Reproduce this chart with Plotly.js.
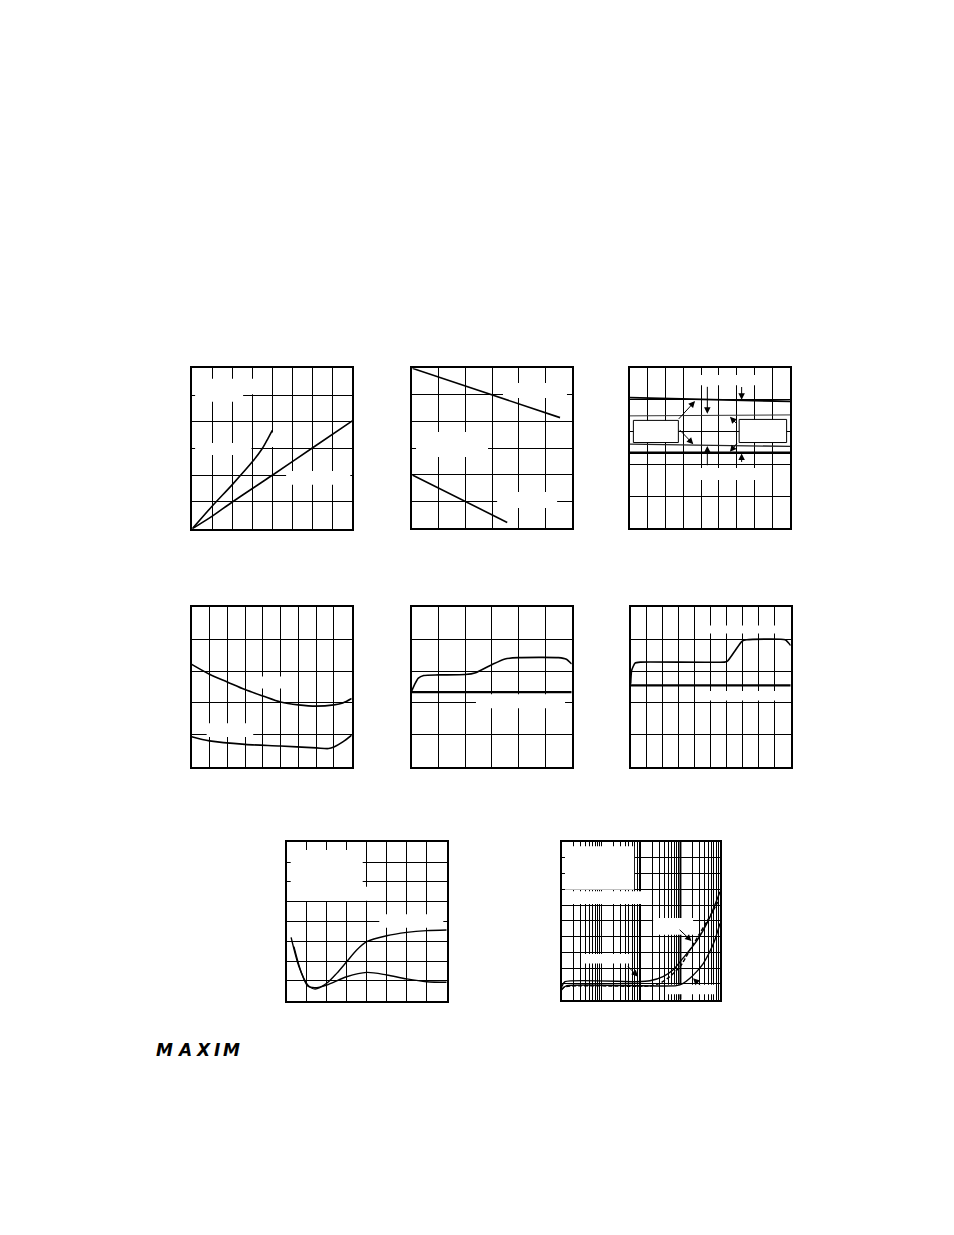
<!DOCTYPE html>
<html><head><meta charset="utf-8">
<script src="https://cdn.plot.ly/plotly-3.0.1.min.js"></script>
<style>html,body{margin:0;padding:0;background:#fff}#chart{width:954px;height:1235px}</style>
</head><body><div id="chart"></div>
<script>
// ---------------- data (grid-division units) ----------------
// Plot 1
const p1CurveAX = [0, 1, 2, 3, 3.5, 3.8, 4.0];
const p1CurveAY = [0, 0.85, 1.65, 2.5, 3.0, 3.4, 3.68];
const p1CurveBX = [0, 1, 2, 4, 6, 8];
const p1CurveBY = [0, 0.47, 1.0, 2.0, 3.02, 4.03];
// Plot 2
const p2UpperX = [0, 3, 5.54];
const p2UpperY = [6.0, 5.0, 4.15];
const p2LowerX = [0, 2, 3.56];
const p2LowerY = [2.0, 1.0, 0.22];
// Plot 3
const p3X = [0, 9];
const p3Curve1 = [4.07, 3.95];
const p3Curve2 = [3.50, 3.53];
const p3Curve3 = [2.62, 2.55];
const p3Curve4 = [2.35, 2.35];
// Plot 4
const p4UpperX = [0, 1, 2, 3, 4, 5, 6, 7, 8, 8.5, 9];
const p4UpperY = [3.21, 2.90, 2.66, 2.42, 2.22, 2.03, 1.94, 1.90, 1.94, 2.0, 2.14];
const p4LowerX = [0, 1, 3, 5, 7, 7.7, 8, 8.5, 9];
const p4LowerY = [0.94, 0.81, 0.70, 0.65, 0.59, 0.57, 0.62, 0.78, 0.99];
// Plot 5
const p5FlatX = [0, 6];
const p5FlatY = [2.34, 2.34];
const p5StepX = [0, 0.12, 0.25, 0.45, 1.0, 2.0, 2.4, 3.0, 3.5, 4.0, 5.5, 5.8, 6.0];
const p5StepY = [2.375, 2.6, 2.78, 2.86, 2.88, 2.89, 2.95, 3.2, 3.38, 3.42, 3.42, 3.37, 3.22];
// Plot 6
const p6FlatX = [0, 10];
const p6FlatY = [2.55, 2.55];
const p6StepX = [0, 0.06, 0.27, 0.6, 5.85, 6.05, 6.5, 6.95, 7.25, 9.65, 10];
const p6StepY = [2.6, 3.02, 3.25, 3.28, 3.28, 3.31, 3.62, 3.93, 3.98, 3.98, 3.8];
// Plot 7
const p7AX = [0.22, 0.62, 1.05, 1.42, 2.0, 2.5, 3.0, 3.5, 4.0, 5.0, 6.0, 7.0, 8.0];
const p7AY = [3.2, 1.7, 0.8, 0.59, 0.88, 1.38, 1.97, 2.56, 2.98, 3.28, 3.45, 3.54, 3.57];
const p7BX = [0.36, 0.72, 1.05, 1.4, 2.0, 3.0, 4.0, 5.0, 6.0, 7.0, 8.0];
const p7BY = [2.73, 1.45, 0.74, 0.66, 0.79, 1.21, 1.43, 1.30, 1.10, 0.96, 0.93];
// Plot 8 (log x)
const p8S1X = [1, 1.21, 77.6, 170, 363, 646, 1148, 2512, 5370, 10000];
const p8S1Y = [0.82, 1.14, 1.14, 1.20, 1.46, 1.88, 2.62, 3.68, 5.16, 6.85];
const p8DashX = [1, 1.2, 170, 302, 537, 977, 1738, 3090, 5495, 8913];
const p8DashY = [0.62, 0.82, 0.87, 1.04, 1.46, 2.09, 3.15, 4.21, 5.26, 6.21];
const p8S3X = [1, 1.35, 794, 1175, 1738, 2570, 3802, 5495, 7413, 10000];
const p8S3Y = [0.68, 0.89, 0.89, 1.04, 1.36, 1.78, 2.31, 3.04, 3.79, 4.84];
const logoLetters = ['M', 'A', 'X', 'I', 'M'];

// ---------------- layout geometry (page pixels) ----------------
const W = 954, H = 1235;
const G = [
  {l:192.3, r:352.3, t:368.3, b:528.7, nx:8,  ny:6},
  {l:412.3, r:572.3, t:368.3, b:528.3, nx:6,  ny:6},
  {l:630.0, r:790.0, t:367.7, b:528.3, nx:9,  ny:5},
  {l:191.7, r:351.7, t:607.3, b:766.7, nx:9,  ny:5},
  {l:411.7, r:571.7, t:607.3, b:766.7, nx:6,  ny:5},
  {l:630.7, r:790.7, t:607.3, b:766.7, nx:10, ny:5},
  {l:286.7, r:446.7, t:842.3, b:1000.7, nx:8, ny:8},
  {l:561.7, r:720.0, t:842.0, b:999.7, nx:4,  ny:10, log:true}
];

const layout = {
  width: W, height: H, margin: {l:0, r:0, t:0, b:0},
  paper_bgcolor: '#fff', plot_bgcolor: '#fff', showlegend: false,
  hovermode: false, annotations: [], shapes: []
};
G.forEach((g, i) => {
  const n = i + 1;
  const xa = {
    domain: [g.l / W, g.r / W], anchor: 'y' + n,
    showgrid: true, gridcolor: '#000', gridwidth: 1,
    showline: true, mirror: true, linecolor: '#000', linewidth: 2,
    showticklabels: false, ticks: '', zeroline: false, fixedrange: true
  };
  if (g.log) { xa.type = 'log'; xa.range = [0, g.nx]; xa.dtick = 'D1'; }
  else { xa.range = [0, g.nx]; xa.dtick = 1; xa.tick0 = 0; }
  const ya = {
    domain: [1 - g.b / H, 1 - g.t / H], anchor: 'x' + n,
    range: [0, g.ny], dtick: 1, tick0: 0,
    showgrid: true, gridcolor: '#000', gridwidth: 1,
    showline: true, mirror: true, linecolor: '#000', linewidth: 2,
    showticklabels: false, ticks: '', zeroline: false, fixedrange: true
  };
  layout[n === 1 ? 'xaxis' : 'xaxis' + n] = xa;
  layout[n === 1 ? 'yaxis' : 'yaxis' + n] = ya;
});

const traces = [];
const ax = n => ({xaxis: n === 1 ? 'x' : 'x' + n, yaxis: n === 1 ? 'y' : 'y' + n});

// heavier decade line on plot 8
traces.push(Object.assign({x:[1000,1000], y:[0,10], mode:'lines', line:{color:'#000', width:2}, hoverinfo:'skip'}, ax(8)));

// white patches where the original labels sat (in grid units; plot 8 x in decades)
const masks = [
  [1, 0.14, 2.54, 4.75, 5.61], [1, 2.54, 3.24, 5.03, 5.61], [1, 0.14, 2.96, 2.76, 3.21],
  [1, 3.7, 4.4, 3.06, 3.6], [1, 4.69, 7.9, 1.64, 2.16],
  [2, 3.40, 5.80, 4.89, 5.45], [2, 0.14, 2.84, 2.67, 3.61], [2, 3.18, 5.43, 0.76, 1.36],
  [3, 3.49, 7.14, 4.45, 4.77], [3, 3.49, 7.14, 1.50, 1.88],
  [4, 3.1, 5.1, 2.45, 2.83], [4, 0.84, 3.46, 0.93, 1.36],
  [5, 2.41, 5.75, 1.83, 2.27],
  [6, 4.33, 9.83, 4.18, 4.43], [6, 4.33, 9.77, 2.08, 2.375],
  [7, 0.2, 3.8, 5.03, 7.61], [7, 3.8, 4.2, 5.05, 5.76], [7, 4.63, 7.83, 3.69, 4.36],
  [8, 0.083, 1.83, 6.98, 9.73], [8, 0.083, 2.27, 6.07, 6.87], [8, 2.31, 3.32, 4.12, 5.18],
  [8, 0.55, 1.7, 2.3, 2.9], [8, 2.61, 3.87, 0.35, 0.95]
];
masks.forEach(m => {
  const [n, x0, x1, y0, y1] = m;
  const fx = v => G[n-1].log ? Math.pow(10, v) : v;
  traces.push(Object.assign({
    x: [fx(x0), fx(x1), fx(x1), fx(x0), fx(x0)], y: [y0, y0, y1, y1, y0],
    mode: 'lines', fill: 'toself', fillcolor: '#fff', line: {width: 0, color: '#fff'}, hoverinfo: 'skip'
  }, ax(n)));
});

function curve(n, x, y, opts) {
  opts = opts || {};
  traces.push(Object.assign({
    x: x, y: y, mode: 'lines', hoverinfo: 'skip',
    line: Object.assign({color: '#000', width: 1.6}, opts.line || {})
  }, ax(n)));
}
const sp = {shape: 'spline', smoothing: 0.8};
curve(1, p1CurveAX, p1CurveAY, {line: sp});
curve(1, p1CurveBX, p1CurveBY, {line: sp});
curve(2, p2UpperX, p2UpperY);
curve(2, p2LowerX, p2LowerY);
curve(3, p3X, p3Curve1, {line: {width: 1.8}});
curve(3, p3X, p3Curve2, {line: {width: 1, color: '#333'}});
curve(3, p3X, p3Curve3, {line: {width: 1.3, color: '#222'}});
curve(3, p3X, p3Curve4, {line: {width: 2.4}});
curve(4, p4UpperX, p4UpperY, {line: sp});
curve(4, p4LowerX, p4LowerY, {line: sp});
curve(5, p5FlatX, p5FlatY, {line: {width: 2.4}});
curve(5, p5StepX, p5StepY, {line: {shape: 'spline', smoothing: 0.6}});
curve(6, p6FlatX, p6FlatY, {line: {width: 2.4}});
curve(6, p6StepX, p6StepY, {line: {shape: 'spline', smoothing: 0.5}});
curve(7, p7AX, p7AY, {line: Object.assign({width: 1.4}, sp)});
curve(7, p7BX, p7BY, {line: Object.assign({width: 1.4}, sp)});
curve(8, p8S1X, p8S1Y, {line: {shape: 'spline', smoothing: 0.6, width: 1.4}});
curve(8, p8DashX, p8DashY, {line: {shape: 'spline', smoothing: 0.6, width: 1.4, dash: '4px,2px'}});
curve(8, p8S3X, p8S3Y, {line: {shape: 'spline', smoothing: 0.6, width: 1.4}});

// empty label boxes on plot 3
[[0.19, 2.72, 2.67, 3.36], [6.14, 8.81, 2.67, 3.39]].forEach(b => {
  layout.shapes.push({type: 'rect', xref: 'x3', yref: 'y3', x0: b[0], x1: b[1], y0: b[2], y1: b[3],
    fillcolor: '#fff', line: {color: '#000', width: 1}, layer: 'above'});
});

// arrows: [subplot, headX, headY, tail dx px, tail dy px]
const arrows = [
  [3, 3.66, 3.96, -17.7, 19.3], [3, 3.56, 2.62, -15, -15.7],
  [3, 4.35, 3.57, 0, -28.3], [3, 4.35, 2.56, 0, 20.7],
  [3, 6.28, 4.0, 0, -14.3], [3, 6.28, 2.33, 0, 10],
  [3, 5.62, 3.47, 8.3, 8.3], [3, 5.62, 2.38, 8.3, -10],
  [8, 3.28, 3.72, -13.4, -12.7], [8, 1.93, 1.46, -11.6, -11.7], [8, 3.32, 1.36, 8.4, 8.4]
];
arrows.forEach(a => {
  layout.annotations.push({xref: 'x' + a[0], yref: 'y' + a[0], x: a[1], y: a[2], ax: a[3], ay: a[4],
    text: '', showarrow: true, arrowhead: 2, arrowsize: 1.3, arrowwidth: 1, arrowcolor: '#000'});
});

// logo
const logoCenters = [164, 184, 203, 216.5, 231.5];
logoLetters.forEach((ch, i) => {
  layout.annotations.push({xref: 'paper', yref: 'paper', x: logoCenters[i] / W, y: 1 - 1050 / H,
    xanchor: 'center', yanchor: 'middle', showarrow: false, text: '<b><i>' + ch + '</i></b>',
    font: {family: 'DejaVu Sans', size: 17, color: '#000'}});
});

Plotly.newPlot('chart', traces, layout, {staticPlot: true, displayModeBar: false});
</script></body></html>
